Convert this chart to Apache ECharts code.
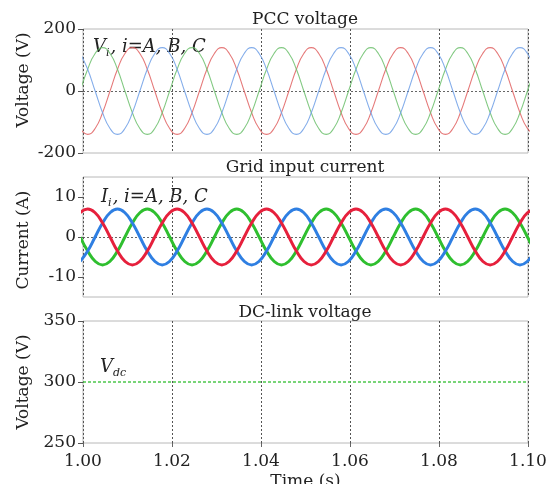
<!DOCTYPE html>
<html><head><meta charset="utf-8">
<script src="https://cdn.jsdelivr.net/npm/echarts@6/dist/echarts.min.js"></script>
<style>html,body{margin:0;padding:0;background:#fff}#c{width:553px;height:484px}</style>
</head><body><div id="c"></div>
<script>
// sample times (s)
const time = [0.999375,1.00105,1.002725,1.0044,1.006075,1.00775,1.009425,1.0111,1.012775,1.01445,1.016125,1.0178,1.019475,1.02115,1.022825,1.0245,1.026175,1.02785,1.029525,1.0312,1.032875,1.03455,1.036225,1.0379,1.039575,1.04125,1.042925,1.0446,1.046275,1.04795,1.049625,1.0513,1.052975,1.05465,1.056325,1.058,1.059675,1.06135,1.063025,1.0647,1.066375,1.06805,1.069725,1.0714,1.073075,1.07475,1.076425,1.0781,1.079775,1.08145,1.083125,1.0848,1.086475,1.08815,1.089825,1.0915,1.093175,1.09485,1.096525,1.0982,1.099875,1.10155];
// PCC voltages (V)
const voltA = [-121,-140,-121,-70,0,70,121,
  140,121,70,0,-70,-121,-140,-121,-70,0,70,121,
  140,121,70,0,-70,-121,-140,-121,-70,0,70,121,
  140,121,70,0,-70,-121,-140,-121,-70,0,70,121,
  140,121,70,0,-70,-121,-140,-121,-70,0,70,121,
  140,121,70,0,-70,-121,-140];
const voltB = [0,70,121,
  140,121,70,0,-70,-121,-140,-121,-70,0,70,121,
  140,121,70,0,-70,-121,-140,-121,-70,0,70,121,
  140,121,70,0,-70,-121,-140,-121,-70,0,70,121,
  140,121,70,0,-70,-121,-140,-121,-70,0,70,121,
  140,121,70,0,-70,-121,-140,-121,-70,0,70];
const voltC = [121,70,0,-70,-121,-140,-121,-70,0,70,121,
  140,121,70,0,-70,-121,-140,-121,-70,0,70,121,
  140,121,70,0,-70,-121,-140,-121,-70,0,70,121,
  140,121,70,0,-70,-121,-140,-121,-70,0,70,121,
  140,121,70,0,-70,-121,-140,-121,-70,0,70,121,
  140,121,70];
// grid input currents (A)
const currA = [6.06,7,6.06,3.5,0,-3.5,-6.06,
  -7,-6.06,-3.5,0,3.5,6.06,7,6.06,3.5,0,-3.5,-6.06,
  -7,-6.06,-3.5,0,3.5,6.06,7,6.06,3.5,0,-3.5,-6.06,
  -7,-6.06,-3.5,0,3.5,6.06,7,6.06,3.5,0,-3.5,-6.06,
  -7,-6.06,-3.5,0,3.5,6.06,7,6.06,3.5,0,-3.5,-6.06,
  -7,-6.06,-3.5,0,3.5,6.06,7];
const currB = [0,-3.5,-6.06,
  -7,-6.06,-3.5,0,3.5,6.06,7,6.06,3.5,0,-3.5,-6.06,
  -7,-6.06,-3.5,0,3.5,6.06,7,6.06,3.5,0,-3.5,-6.06,
  -7,-6.06,-3.5,0,3.5,6.06,7,6.06,3.5,0,-3.5,-6.06,
  -7,-6.06,-3.5,0,3.5,6.06,7,6.06,3.5,0,-3.5,-6.06,
  -7,-6.06,-3.5,0,3.5,6.06,7,6.06,3.5,0,-3.5];
const currC = [-6.06,-3.5,0,3.5,6.06,7,6.06,3.5,0,-3.5,-6.06,
  -7,-6.06,-3.5,0,3.5,6.06,7,6.06,3.5,0,-3.5,-6.06,
  -7,-6.06,-3.5,0,3.5,6.06,7,6.06,3.5,0,-3.5,-6.06,
  -7,-6.06,-3.5,0,3.5,6.06,7,6.06,3.5,0,-3.5,-6.06,
  -7,-6.06,-3.5,0,3.5,6.06,7,6.06,3.5,0,-3.5,-6.06,
  -7,-6.06,-3.5];
// DC-link voltage (V)
const dcTime = [1.00, 1.10];
const dcVolt = [300, 300];
// tick values
const timeTicks = [1.00, 1.02, 1.04, 1.06, 1.08, 1.10];
const voltTicks = [-200, 0, 200];
const currTicks = [-10, 0, 10];
const dcTicks = [250, 300, 350];

const FONT = '"DejaVu Serif", "Liberation Serif", serif';
const pair = (xs, ys) => xs.map((x, i) => [x, ys[i]]);

const grids = [
  {left: 83, right: 25, top: 29, height: 124},
  {left: 83, right: 25, top: 177, height: 120},
  {left: 83, right: 25, top: 321, height: 122}
].map(g => Object.assign(g, {show: true, borderColor: '#b8b8b8', borderWidth: 1,
  backgroundColor: 'transparent', containLabel: false, outerBoundsMode: 'none'}));

function xAx(i, labels) {
  return {
    type: 'value', gridIndex: i, min: timeTicks[0], max: timeTicks[timeTicks.length - 1],
    interval: timeTicks[1] - timeTicks[0],
    axisLine: {show: false},
    axisTick: {show: labels, length: 4, inside: false, lineStyle: {color: '#666'}},
    axisLabel: {show: labels, margin: 10, fontFamily: FONT, fontSize: 17, color: '#222',
      formatter: v => v.toFixed(2)},
    splitLine: {show: true, lineStyle: {type: [2, 2], color: '#555', width: 1}},
    name: labels ? 'Time (s)' : '', nameLocation: 'middle', nameGap: 30,
    nameTextStyle: {fontFamily: FONT, fontSize: 17, color: '#222'}
  };
}
function yAx(i, ticks, min, max, split) {
  return {
    type: 'value', gridIndex: i, min: min, max: max,
    axisLine: {show: false},
    axisTick: {show: true, length: 5, customValues: ticks, lineStyle: {color: '#555'}},
    axisLabel: {show: true, customValues: ticks, margin: 7, fontFamily: FONT, fontSize: 17, color: '#222'},
    splitLine: {show: split, showMinLine: false, showMaxLine: false,
      lineStyle: {type: [2, 2], color: '#666', width: 1}}
  };
}

const thin = (c) => ({width: 1.1, color: c, opacity: 0.85});
const thick = (c) => ({width: 3, color: c});
const richStyle = {
  it: {font: 'italic 18px ' + FONT, fill: '#222', lineHeight: 22, verticalAlign: 'bottom'},
  sub: {font: 'italic 11px ' + FONT, fill: '#222', lineHeight: 22, verticalAlign: 'bottom', padding: [0, 1, -3, 0]}
};

const option = {
  animation: false,
  backgroundColor: '#fff',
  grid: grids,
  xAxis: [xAx(0, false), xAx(1, false), xAx(2, true)],
  yAxis: [yAx(0, voltTicks, -200, 200, true), yAx(1, currTicks, -15, 15, true), yAx(2, dcTicks, 250, 350, false)],
  series: [
    {type: 'line', xAxisIndex: 0, yAxisIndex: 0, data: pair(time, voltA), smooth: 0.5, showSymbol: false, lineStyle: thin('#e06262')},
    {type: 'line', xAxisIndex: 0, yAxisIndex: 0, data: pair(time, voltB), smooth: 0.5, showSymbol: false, lineStyle: thin('#6cc06c')},
    {type: 'line', xAxisIndex: 0, yAxisIndex: 0, data: pair(time, voltC), smooth: 0.5, showSymbol: false, lineStyle: thin('#6f9fe6')},
    {type: 'line', xAxisIndex: 1, yAxisIndex: 1, data: pair(time, currB), smooth: 0.5, showSymbol: false, lineStyle: thick('#2fbf2f')},
    {type: 'line', xAxisIndex: 1, yAxisIndex: 1, data: pair(time, currC), smooth: 0.5, showSymbol: false, lineStyle: thick('#2f7fe2')},
    {type: 'line', xAxisIndex: 1, yAxisIndex: 1, data: pair(time, currA), smooth: 0.5, showSymbol: false, lineStyle: thick('#e6203c')},
    {type: 'line', xAxisIndex: 2, yAxisIndex: 2, data: pair(dcTime, dcVolt), showSymbol: false, lineStyle: {width: 1.5, color: '#4cc84c', type: [3, 2]}}
  ],
  graphic: [
    {type: 'text', x: 305, y: 20, style: {text: 'PCC voltage', font: '17px ' + FONT, fill: '#222', align: 'center', verticalAlign: 'middle'}},
    {type: 'text', x: 305, y: 168, style: {text: 'Grid input current', font: '17px ' + FONT, fill: '#222', align: 'center', verticalAlign: 'middle'}},
    {type: 'text', x: 305, y: 313, style: {text: 'DC-link voltage', font: '17px ' + FONT, fill: '#222', align: 'center', verticalAlign: 'middle'}},
    {type: 'text', x: 24, y: 80, rotation: Math.PI / 2, style: {text: 'Voltage (V)', font: '17px ' + FONT, fill: '#222', align: 'center', verticalAlign: 'middle'}},
    {type: 'text', x: 24, y: 240, rotation: Math.PI / 2, style: {text: 'Current (A)', font: '17px ' + FONT, fill: '#222', align: 'center', verticalAlign: 'middle'}},
    {type: 'text', x: 24, y: 382, rotation: Math.PI / 2, style: {text: 'Voltage (V)', font: '17px ' + FONT, fill: '#222', align: 'center', verticalAlign: 'middle'}},
    {type: 'text', x: 93, y: 45, style: {text: '{it|V}{sub|i}{it|, i=A, B, C}', align: 'left', verticalAlign: 'middle', rich: richStyle}},
    {type: 'text', x: 101, y: 195, style: {text: '{it|I}{sub|i}{it|, i=A, B, C}', align: 'left', verticalAlign: 'middle', rich: richStyle}},
    {type: 'text', x: 100, y: 365, style: {text: '{it|V}{sub|dc}', align: 'left', verticalAlign: 'middle', rich: richStyle}}
  ]
};
const chart = echarts.init(document.getElementById('c'), null, {renderer: 'canvas'});
chart.setOption(option);
</script>
</body></html>
